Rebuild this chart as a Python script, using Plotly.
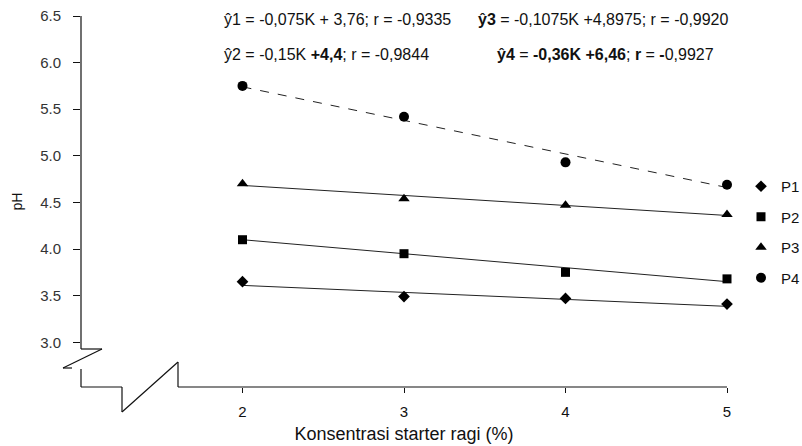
import plotly.graph_objects as go

# ---- data ----
konsentrasi = [2, 3, 4, 5]
series_names = ["P1", "P2", "P3", "P4"]
p1 = [3.65, 3.49, 3.47, 3.41]
p2 = [4.10, 3.95, 3.75, 3.68]
p3 = [4.70, 4.54, 4.47, 4.37]
p4 = [5.75, 5.42, 4.93, 4.69]
slopes = [-0.075, -0.15, -0.1075, -0.36]
intercepts = [3.76, 4.4, 4.8975, 6.46]
y_ticks = [3.0, 3.5, 4.0, 4.5, 5.0, 5.5, 6.0, 6.5]
x_ticks = [2, 3, 4, 5]
equations = [
    "ŷ1 = -0,075K + 3,76; r = -0,9335",
    "ŷ2 = -0,15K <b>+4,4</b>; r = -0,9844",
    "<b>ŷ3</b> = -0,1075K +4,8975; r = -0,9920",
    "<b>ŷ4</b> = <b>-0,36K +6,46</b>; <b>r</b> = <b>-</b>0,9927",
]

series = [p1, p2, p3, p4]
symbols = ["diamond", "square", "triangle-up", "circle"]
sizes = [9, 9, 10, 10]
dashes = ["solid", "solid", "solid", "dash"]

FONT = "Liberation Sans, Arial, sans-serif"
INK = "#111111"

fig = go.Figure()

# trend lines from regression equations
for i, name in enumerate(series_names):
    xs = [konsentrasi[0], konsentrasi[-1]]
    ys = [slopes[i] * x + intercepts[i] for x in xs]
    fig.add_trace(go.Scatter(
        x=xs, y=ys, mode="lines",
        line=dict(color="#222222", width=1, dash=dashes[i]),
        showlegend=False, hoverinfo="skip", cliponaxis=False,
    ))

for i, name in enumerate(series_names):
    fig.add_trace(go.Scatter(
        x=konsentrasi, y=series[i], mode="markers", name=name,
        legendgroup=name,
        marker=dict(symbol=symbols[i], size=sizes[i], color="black"),
        cliponaxis=False,
    ))

L, R, T, B = 81, 75, 16, 59
W, H = 802, 446
pw, ph = W - L - R, H - T - B

def px(x):
    return (x - L) / pw

def py(y):
    return (H - B - y) / ph

line_style = dict(color="#111111", width=1.2)
segments = [
    # y axis with break
    ((81, 16), (81, 349)),
    ((81, 349), (102, 349)),
    ((102, 349), (63, 368)),
    ((63, 368), (72, 368)),
    ((81, 369), (81, 387)),
    # x axis with break
    ((81, 387), (122, 387)),
    ((122, 387), (122, 412)),
    ((122, 412), (178, 362)),
    ((178, 362), (178, 387)),
    ((178, 387), (727, 387)),
]
shapes = []
for (x0, y0), (x1, y1) in segments:
    shapes.append(dict(type="line", xref="paper", yref="paper",
                       x0=px(x0), y0=py(y0), x1=px(x1), y1=py(y1),
                       line=line_style))

annotations = []
eq_pos = [(222, 20), (222, 55), (476, 20), (495, 55)]
for txt, (ex, ey) in zip(equations, eq_pos):
    annotations.append(dict(text=txt, xref="paper", yref="paper",
                            x=px(ex), y=py(ey), xanchor="left", yanchor="middle",
                            showarrow=False,
                            font=dict(family=FONT, size=16, color=INK)))

fig.update_layout(
    width=W, height=H,
    margin=dict(l=L, r=R, t=T, b=B, autoexpand=False),
    paper_bgcolor="white", plot_bgcolor="white",
    font=dict(family=FONT, size=13, color=INK),
    shapes=shapes,
    annotations=annotations,
    showlegend=True,
    legend=dict(x=px(741), y=py(170), xanchor="left", yanchor="top",
                traceorder="grouped", tracegroupgap=8,
                font=dict(family=FONT, size=15, color=INK),
                bgcolor="rgba(0,0,0,0)", itemwidth=30),
    xaxis=dict(range=[1, 5], tickvals=x_ticks, ticktext=[str(v) for v in x_ticks],
               showgrid=False, zeroline=False, showline=False,
               ticks="outside", ticklen=5, tickcolor="#111111",
               ticklabelstandoff=6,
               tickfont=dict(family=FONT, size=15, color=INK),
               title=dict(text="Konsentrasi starter ragi (%)", standoff=8,
                          font=dict(family=FONT, size=18, color=INK))),
    yaxis=dict(range=[2.52, 6.5], tickvals=y_ticks,
               ticktext=[f"{v:.1f}" for v in y_ticks],
               showgrid=False, zeroline=False, showline=False,
               ticks="outside", ticklen=7, tickcolor="#111111",
               ticklabelstandoff=9,
               tickfont=dict(family=FONT, size=15, color="#333333"),
               title=dict(text="pH", standoff=14,
                          font=dict(family=FONT, size=14, color=INK))),
)

fig.write_html("out.html")
